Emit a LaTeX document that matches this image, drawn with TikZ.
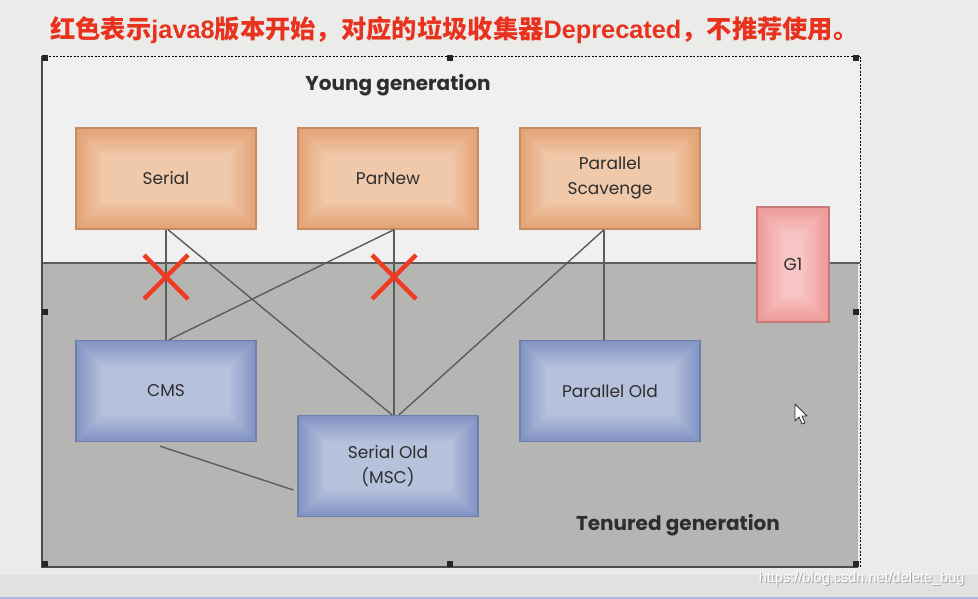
\documentclass[tikz,border=0pt]{standalone}
\usepackage{fontspec}
\setmainfont{Poppins}
\newfontfamily\cjk{Noto Sans CJK SC}
\newfontfamily\lat{Liberation Sans}
\usetikzlibrary{calc}
\definecolor{bgc}{HTML}{EBECEA}
\definecolor{bandc}{HTML}{E1E2E0}
\definecolor{youngc}{HTML}{EFF0EF}
\definecolor{tenc}{HTML}{B5B6B4}
\definecolor{titlered}{HTML}{E8321E}
\definecolor{xred}{HTML}{F03A22}
\definecolor{linec}{HTML}{5C5C5C}
\definecolor{txtc}{HTML}{2E2E2E}
\definecolor{orout}{HTML}{E3A275}
\definecolor{orin}{HTML}{F0C8AA}
\definecolor{ordraw}{HTML}{C48D66}
\definecolor{blout}{HTML}{8394C4}
\definecolor{blin}{HTML}{B6C1DC}
\definecolor{bldraw}{HTML}{6F7FAB}
\definecolor{pkout}{HTML}{EE9A9A}
\definecolor{pkin}{HTML}{F7C6C4}
\definecolor{pkdraw}{HTML}{C97878}
\tikzset{
  gbox/.style n args={3}{draw=#3, line width=1.3pt, text=txtc,
    font=\fontsize{17}{25}\selectfont, align=center,
    path picture={
      \foreach \i in {0,...,12}{
        \pgfmathtruncatemacro\p{\i*100/12}
        \fill[#2!\p!#1] ([shift={(\i*2.2pt,-\i*2.2pt)}]path picture bounding box.north west)
          rectangle ([shift={(-\i*2.2pt,\i*2.2pt)}]path picture bounding box.south east);
      }
    }},
  wbox/.style={minimum width=180pt, minimum height=101pt, inner sep=0pt},
  orbox/.style={gbox={orout}{orin}{ordraw}, wbox},
  blbox/.style={gbox={blout}{blin}{bldraw}, wbox},
  conn/.style={draw=linec, line width=1.4pt},
  xmark/.style={draw=xred, line width=4.5pt},
  handle/.style={fill=black!85, minimum size=6pt, inner sep=0pt},
  gentext/.style={text=txtc, font=\fontsize{20}{22}\selectfont\bfseries},
}
\begin{document}
\begin{tikzpicture}[x=1pt,y=-1pt]
\useasboundingbox (0,0) rectangle (978,599);
\fill[bgc] (0,0) rectangle (978,599);
\fill[bandc] (0,575) rectangle (978,597);
\fill[black!35!blue!30] (0,597) rectangle (978,599);
% regions
\fill[youngc] (42,56) rectangle (860,263);
\fill[tenc] (42,263) rectangle (858,567);
\draw[linec, line width=2pt] (42,263) -- (860,263);
\draw[black!70, line width=1.2pt] (42,56) -- (42,567) -- (858,567);
\draw[black, line width=0.8pt, dashed, dash pattern=on 2pt off 1.5pt] (42,56) -- (860,56) -- (860,567);
% handles
\foreach \n/\hx/\hy in {h1/45/58, h2/450/58, h3/856/58, h4/45/312, h5/856/312, h6/45/564, h7/450/564, h8/856/564}
  \node[handle] (\n) at (\hx,\hy) {};
% title
\node[anchor=west, text=titlered, inner sep=0pt, font=\cjk\bfseries\fontsize{25.3}{28}\selectfont] (title) at (50,30)
  {红色表示{\lat\bfseries java8}版本开始，对应的垃圾收集器{\lat\bfseries Deprecated}，不推荐使用。};
% labels
\node[gentext] (young) at (398,85) {Young generation};
\node[gentext] (tenured) at (678,525) {Tenured generation};
% boxes
\node[orbox] (serial) at (166,178.5) {Serial};
\node[orbox] (parnew) at (388,178.5) {ParNew};
\node[orbox] (parscav) at (610,178.5) {Parallel\\Scavenge};
\node[gbox={pkout}{pkin}{pkdraw}, minimum width=72pt, minimum height=115pt, inner sep=0pt] (g1) at (793,264.5) {G1};
\node[blbox] (cms) at (166,391) {CMS};
\node[blbox] (parold) at (610,391) {Parallel Old};
\node[blbox] (serialold) at (388,466) {Serial Old\\(MSC)};
% connectors
\draw[conn] (serial.south) -- (cms.north);
\draw[conn] ([xshift=2pt]serial.south) -- ([xshift=4pt]serialold.north);
\draw[conn] ([xshift=6pt]parnew.south) -- ([xshift=6pt]serialold.north);
\draw[conn] ([xshift=6pt]parnew.south) -- ([xshift=3pt]cms.north);
\draw[conn] ([xshift=-6pt]parscav.south) -- ([xshift=11pt]serialold.north);
\draw[conn] ([xshift=-6pt]parscav.south) -- ([xshift=-6pt]parold.north);
\draw[conn] ([xshift=-6pt,yshift=-4pt]cms.south) -- ([xshift=-4pt,yshift=-24pt]serialold.west);
% red crosses
\coordinate (x1) at (166,277);
\coordinate (x2) at (394,277);
\foreach \c in {x1,x2}{
  \draw[xmark] ([shift={(-22pt,-22pt)}]\c) -- ([shift={(22pt,22pt)}]\c);
  \draw[xmark] ([shift={(-22pt,22pt)}]\c) -- ([shift={(22pt,-22pt)}]\c);
}
% cursor
\draw[fill=white, draw=black!80, line width=0.8pt, line join=round]
  (795,404) -- (795,421) -- (799,417) -- (802,424) -- (805,423) -- (802,416) -- (807,416) -- cycle;
% watermark
\node[text=black!35, font=\lat\fontsize{14.5}{16}\selectfont, anchor=east] (wms) at (969,580) {https://blog.csdn.net/delete\_bug};
\node[text=white, font=\lat\fontsize{14.5}{16}\selectfont, anchor=east] (wm) at (968,579) {https://blog.csdn.net/delete\_bug};
\end{tikzpicture}
\end{document}
